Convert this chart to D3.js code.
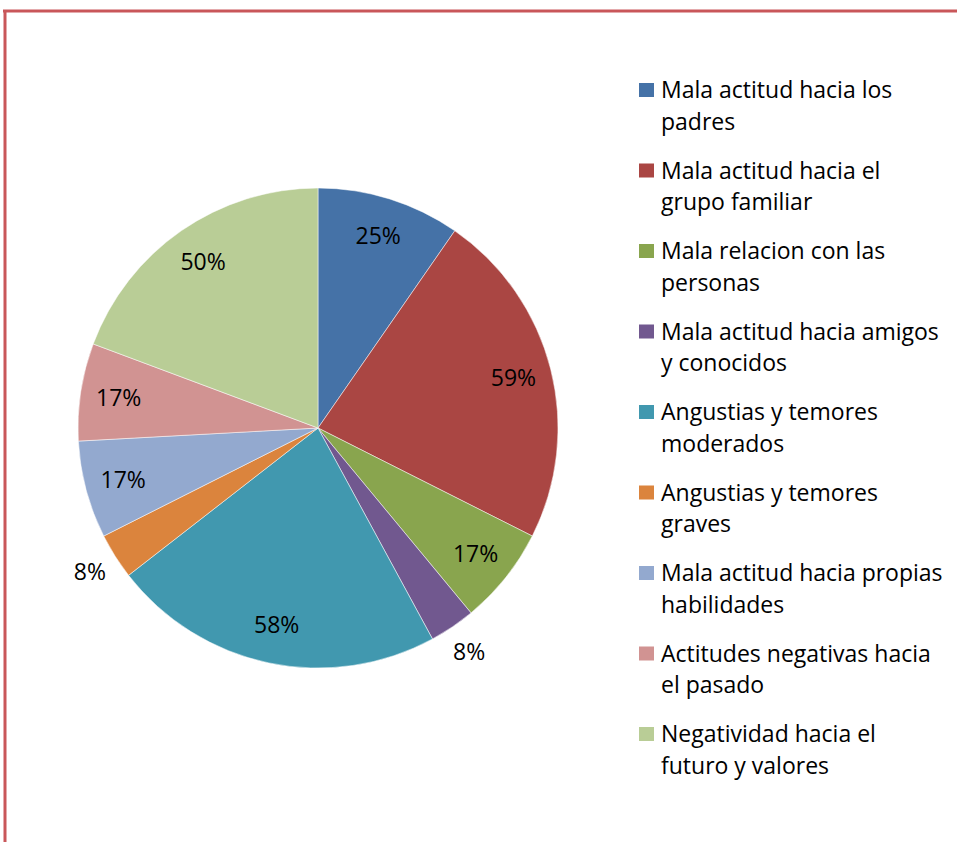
<!DOCTYPE html>
<html>
<head>
<meta charset="utf-8">
<script src="https://cdn.jsdelivr.net/npm/d3@7"></script>
<style>
  body { margin: 0; background: #fff; }
  svg { display: block; font-family: "Open Sans", "Noto Sans", sans-serif; }
</style>
</head>
<body>
<div id="chart"></div>
<script>
// legend names, with the line breaks used in the original legend
const categories = [
    "Mala actitud hacia los\npadres",
    "Mala actitud hacia el\ngrupo familiar",
    "Mala relacion con las\npersonas",
    "Mala actitud hacia amigos\ny conocidos",
    "Angustias y temores\nmoderados",
    "Angustias y temores\ngraves",
    "Mala actitud hacia propias\nhabilidades",
    "Actitudes negativas hacia\nel pasado",
    "Negatividad hacia el\nfuturo y valores"
];
const values = [25, 59, 17, 8, 58, 8, 17, 17, 50];
const labels = ["25%", "59%", "17%", "8%", "58%", "8%", "17%", "17%", "50%"];
const colors = ["#4572A7", "#AA4643", "#89A54E", "#71588F", "#4198AF",
                "#DB843D", "#93A9CF", "#D19392", "#B9CD96"];

const width = 957, height = 842;
const cx = 318, cy = 428, radius = 240;

const svg = d3.select("#chart").append("svg")
    .attr("width", width)
    .attr("height", height);

// red frame (top and left edges)
svg.append("line")
    .attr("x1", 3).attr("x2", width).attr("y1", 11).attr("y2", 11)
    .attr("stroke", "#c9575a").attr("stroke-width", 3);
svg.append("line")
    .attr("x1", 5).attr("x2", 5).attr("y1", 10).attr("y2", height)
    .attr("stroke", "#c9575a").attr("stroke-width", 3);

const data = categories.map((c, i) => ({ name: c, value: values[i], label: labels[i], color: colors[i] }));

const pie = d3.pie().sort(null).value(d => d.value);
const arcs = pie(data);
const arc = d3.arc().innerRadius(0).outerRadius(radius);
const inner = d3.arc().innerRadius(radius * 0.84).outerRadius(radius * 0.84);
const outer = d3.arc().innerRadius(radius * 1.125).outerRadius(radius * 1.125);

const g = svg.append("g").attr("transform", `translate(${cx},${cy})`);

g.selectAll("path")
    .data(arcs)
    .join("path")
    .attr("d", arc)
    .attr("fill", d => d.data.color)
    .attr("stroke", "#fff")
    .attr("stroke-width", 0.5);

// small slices get their label outside the pie
g.selectAll("text")
    .data(arcs)
    .join("text")
    .attr("transform", d => {
        const p = (d.data.value < 10 ? outer : inner).centroid(d);
        return `translate(${p[0]},${p[1]})`;
    })
    .attr("text-anchor", "middle")
    .attr("dy", "0.35em")
    .attr("font-size", 23)
    .attr("fill", "#000")
    .text(d => d.data.label);

// legend
const legend = svg.append("g").attr("transform", "translate(639,0)");

const items = legend.selectAll("g")
    .data(data)
    .join("g")
    .attr("transform", (d, i) => `translate(0,${98 + i * 80.5})`);

items.append("rect")
    .attr("x", 0).attr("y", -15)
    .attr("width", 15).attr("height", 14)
    .attr("fill", d => d.color);

items.append("text")
    .attr("font-size", 23)
    .attr("fill", "#000")
    .selectAll("tspan")
    .data(d => d.name.split("\n"))
    .join("tspan")
    .attr("x", 22)
    .attr("y", (d, i) => i * 31.5)
    .text(d => d);
</script>
</body>
</html>
